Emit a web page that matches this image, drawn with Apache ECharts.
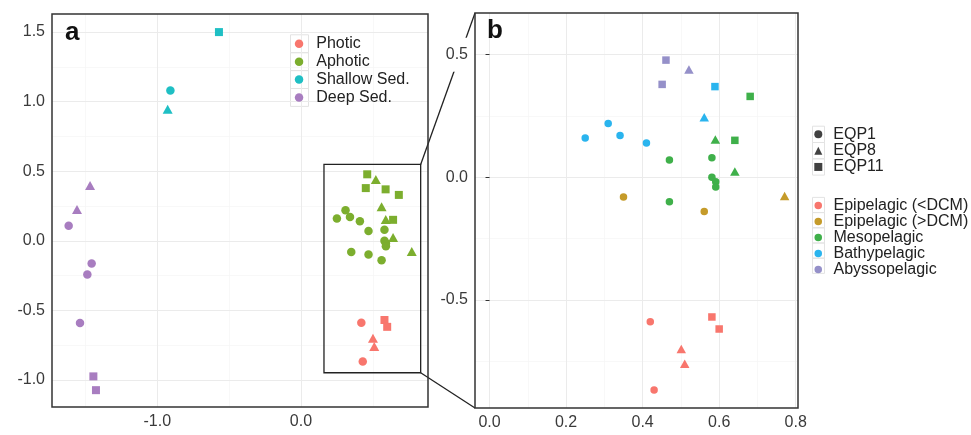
<!DOCTYPE html>
<html>
<head>
<meta charset="utf-8">
<script src="https://cdn.jsdelivr.net/npm/echarts@6/dist/echarts.min.js"></script>
<style>html,body{margin:0;padding:0;background:#fff}#c{width:971px;height:435px}</style>
</head>
<body>
<div id="c"></div>
<script>
// ---------- data: [x, y, station] ----------
const epiBelowDCM = [[0.420,-0.588,'EQP1'],[0.430,-0.867,'EQP1'],[0.501,-0.700,'EQP8'],[0.510,-0.760,'EQP8'],[0.581,-0.569,'EQP11'],[0.600,-0.618,'EQP11']];
const epiAboveDCM = [[0.350,-0.080,'EQP1'],[0.561,-0.139,'EQP1'],[0.771,-0.076,'EQP8']];
const mesopelagic = [[0.470,0.071,'EQP1'],[0.581,0.080,'EQP1'],[0.581,0.001,'EQP1'],[0.591,-0.018,'EQP1'],[0.591,-0.039,'EQP1'],[0.470,-0.099,'EQP1'],[0.590,0.154,'EQP8'],[0.641,0.024,'EQP8'],[0.681,0.330,'EQP11'],[0.641,0.151,'EQP11']];
const bathypelagic = [[0.310,0.220,'EQP1'],[0.250,0.160,'EQP1'],[0.341,0.171,'EQP1'],[0.410,0.140,'EQP1'],[0.561,0.245,'EQP8'],[0.589,0.370,'EQP11']];
const abyssopelagic = [[0.461,0.478,'EQP11'],[0.451,0.379,'EQP11'],[0.521,0.440,'EQP8']];
const shallowSed = [[-0.909,1.080,'EQP1'],[-0.928,0.946,'EQP8'],[-0.571,1.500,'EQP11']];
const deepSed = [[-1.617,0.108,'EQP1'],[-1.457,-0.163,'EQP1'],[-1.487,-0.242,'EQP1'],[-1.538,-0.591,'EQP1'],[-1.468,0.398,'EQP8'],[-1.559,0.226,'EQP8'],[-1.445,-0.974,'EQP11'],[-1.427,-1.073,'EQP11']];
const photic = epiBelowDCM;
const aphotic = [].concat(epiAboveDCM, mesopelagic, bathypelagic, abyssopelagic);

const stations = ['EQP1','EQP8','EQP11'];
const legendA = ['Photic','Aphotic','Shallow Sed.','Deep Sed.'];
const legendB = ['Epipelagic (<DCM)','Epipelagic (>DCM)','Mesopelagic','Bathypelagic','Abyssopelagic'];

// ---------- axes ----------
const aXRange = [-1.733, 0.884], aYRange = [-1.194, 1.63];
const bXRange = [-0.038, 0.806], bYRange = [-0.94, 0.67];
const aXTicks = [-1, 0], aYTicks = [-1, -0.5, 0, 0.5, 1, 1.5];
const bXTicks = [0, 0.2, 0.4, 0.6, 0.8], bYTicks = [-0.5, 0, 0.5];
const aXMinor = [-1.5, -0.5, 0.5], aYMinor = [-0.75, -0.25, 0.25, 0.75, 1.25];
const bXMinor = [0.1, 0.3, 0.5, 0.7], bYMinor = [-0.75, -0.25, 0.25];
const zoomBoxX = [0.16, 0.833], zoomBoxY = [-0.948, 0.549];

// ---------- styles ----------
const FONT = "'Liberation Sans', Arial, sans-serif";
const colA = {'Photic':'#F8766D','Aphotic':'#7CAE2E','Shallow Sed.':'#1FBFC4','Deep Sed.':'#A87DC0'};
const colB = {'Epipelagic (<DCM)':'#F8766D','Epipelagic (>DCM)':'#C59B2A','Mesopelagic':'#3FB04A','Bathypelagic':'#2AB4EE','Abyssopelagic':'#9590C9'};
const symMap = {EQP1:'circle', EQP8:'triangle', EQP11:'rect'};
const sizeA = {EQP1:8.5, EQP8:[10,9], EQP11:8};
const sizeB = {EQP1:7.5, EQP8:[9.5,8.5], EQP11:7.5};

function pts(name, data, gi, color, sizes) {
  return {
    type:'scatter', name, xAxisIndex:gi, yAxisIndex:gi, data, z:3,
    symbol: v => symMap[v[2]], symbolSize: v => sizes[v[2]],
    itemStyle:{color, opacity:1}, emphasis:{disabled:true}
  };
}
function gridLines(gi, xs, ys, xm, ym) {
  const major = {color:'#EBEBEB', width:1, type:'solid'};
  const minor = {color:'#F5F5F5', width:0.7, type:'solid'};
  const d = [];
  xm.forEach(v => d.push({xAxis:v, lineStyle:minor}));
  ym.forEach(v => d.push({yAxis:v, lineStyle:minor}));
  xs.forEach(v => d.push({xAxis:v, lineStyle:major}));
  ys.forEach(v => d.push({yAxis:v, lineStyle:major}));
  return {type:'line', xAxisIndex:gi, yAxisIndex:gi, data:[], z:1, silent:true,
    markLine:{silent:true, z:1, symbol:['none','none'], label:{show:false}, emphasis:{disabled:true}, data:d}};
}
function axis(gi, range, ticks, labelExtra, extra) {
  return Object.assign({
    type:'value', gridIndex:gi, min:range[0], max:range[1],
    axisLine:{show:false}, splitLine:{show:false},
    axisTick:{show:true, length:4, lineStyle:{color:'#333', width:1}, customValues:ticks},
    axisLabel:Object.assign({customValues:ticks, formatter:v => Number(v).toFixed(1), color:'#3a3a3a', fontSize:16, fontFamily:FONT, margin:7}, labelExtra || {})
  }, extra || {});
}

const chart = echarts.init(document.getElementById('c'), null, {renderer:'canvas'});
const series = [
  gridLines(0, aXTicks, aYTicks, aXMinor, aYMinor),
  gridLines(1, bXTicks, bYTicks, bXMinor, bYMinor),
  pts('Photic', photic, 0, colA['Photic'], sizeA),
  pts('Aphotic', aphotic, 0, colA['Aphotic'], sizeA),
  pts('Shallow Sed.', shallowSed, 0, colA['Shallow Sed.'], sizeA),
  pts('Deep Sed.', deepSed, 0, colA['Deep Sed.'], sizeA),
  pts('Epipelagic (<DCM)', epiBelowDCM, 1, colB['Epipelagic (<DCM)'], sizeB),
  pts('Epipelagic (>DCM)', epiAboveDCM, 1, colB['Epipelagic (>DCM)'], sizeB),
  pts('Mesopelagic', mesopelagic, 1, colB['Mesopelagic'], sizeB),
  pts('Bathypelagic', bathypelagic, 1, colB['Bathypelagic'], sizeB),
  pts('Abyssopelagic', abyssopelagic, 1, colB['Abyssopelagic'], sizeB)
];
stations.forEach(s => series.push({type:'scatter', name:s, xAxisIndex:1, yAxisIndex:1, data:[], itemStyle:{color:'#111'}, symbol:symMap[s]}));

const legText = (lh, pad) => ({fontSize:16, fontFamily:FONT, color:'#222', lineHeight:lh, padding:[0,0,0,pad]});
const keyBoxes = [];
function boxes(x, y0, w, h, n) {
  for (let i = 0; i < n; i++) keyBoxes.push({type:'rect', shape:{x:x, y:y0 + i*h, width:w, height:h}, style:{fill:'none', stroke:'#E3E3E3', lineWidth:1}, z:0, silent:true});
}
boxes(290.5, 34.8, 18, 17.9, 4);
boxes(812.5, 126.2, 12, 16.3, 3);
boxes(812.5, 197.4, 12, 15.2, 5);

chart.setOption({
  animation:false,
  backgroundColor:'#fff',
  grid:[
    {left:52, top:14, right:971-428, bottom:435-407, show:true, borderColor:'#333', borderWidth:1.5, backgroundColor:'transparent', z:4},
    {left:475, top:13, right:971-798, bottom:435-408, show:true, borderColor:'#333', borderWidth:1.5, backgroundColor:'transparent', z:4}
  ],
  xAxis:[ axis(0,aXRange,aXTicks), axis(1,bXRange,bXTicks) ],
  yAxis:[ axis(0,aYRange,aYTicks),
          axis(1,bYRange,bYTicks,{backgroundColor:'#fff', padding:[9,1,9,1], margin:6},{z:6}) ],
  legend:[
    {orient:'vertical', left:294.8, top:34.8, padding:0, itemGap:0, itemWidth:8.5, itemHeight:8.5, selectedMode:false, z:8,
     data:legendA.map(n => ({name:n, icon:'circle'})), textStyle:legText(17.9, 8)},
    {orient:'vertical', left:814.3, top:126.2, padding:0, itemGap:0, itemWidth:8, itemHeight:8, selectedMode:false, z:8,
     data:stations.map(n => ({name:n, icon:symMap[n]})), textStyle:legText(16.3, 6)},
    {orient:'vertical', left:814.5, top:197.4, padding:0, itemGap:0, itemWidth:7.5, itemHeight:7.5, selectedMode:false, z:8,
     data:legendB.map(n => ({name:n, icon:'circle'})), textStyle:legText(15.2, 6.5)}
  ],
  series:series,
  graphic:[
    {type:'text', left:65, top:20, style:{text:'a', font:"bold 26px " + FONT, fill:'#111'}, z:10},
    {type:'text', left:487, top:18, style:{text:'b', font:"bold 26px " + FONT, fill:'#111'}, z:10}
  ].concat(keyBoxes)
});

// zoom box and connector lines, positioned through the axes
const p1 = chart.convertToPixel({gridIndex:0}, [zoomBoxX[0], zoomBoxY[1]]);
const p2 = chart.convertToPixel({gridIndex:0}, [zoomBoxX[1], zoomBoxY[0]]);
const bTL = chart.convertToPixel({gridIndex:1}, [bXRange[0], bYRange[1]]);
const bBL = chart.convertToPixel({gridIndex:1}, [bXRange[0], bYRange[0]]);
const ln = {stroke:'#222', lineWidth:1.3};
chart.setOption({graphic:[
  {type:'rect', id:'zb', shape:{x:p1[0], y:p1[1], width:p2[0]-p1[0], height:p2[1]-p1[1]}, style:{fill:'none', stroke:'#222', lineWidth:1.3}, z:5, silent:true},
  {type:'line', id:'l1', shape:{x1:p2[0], y1:p1[1], x2:bTL[0], y2:bTL[1]}, style:ln, z:-1, zlevel:0, silent:true},
  {type:'line', id:'l2', shape:{x1:p2[0], y1:p2[1], x2:bBL[0], y2:bBL[1]}, style:ln, z:-1, zlevel:0, silent:true}
]});
</script>
</body>
</html>
